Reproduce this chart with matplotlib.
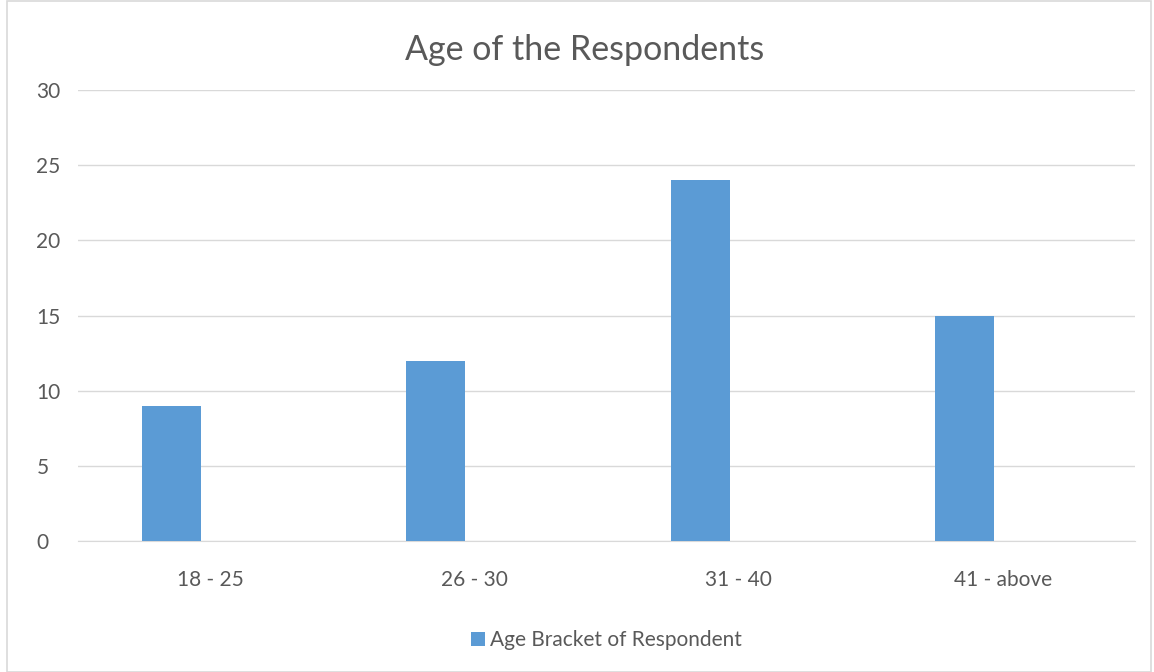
import matplotlib
matplotlib.use('Agg')
import matplotlib.pyplot as plt
from matplotlib.patches import Rectangle
import numpy as np

# data
brackets = ['18 - 25', '26 - 30', '31 - 40', '41 - above']
respondents = [9, 12, 24, 15]
series_name = 'Age Bracket of Respondent'

bar_color = '#5b9bd5'
text_color = '#595959'
grid_color = '#d9d9d9'

plt.rcParams['font.family'] = ['Lato', 'DejaVu Sans']

fig = plt.figure(figsize=(11.54, 6.72), dpi=100)
ax = fig.add_axes([78 / 1154, 1 - 541 / 672, (1135 - 78) / 1154, (541 - 90) / 672])

pos = np.arange(len(brackets))
ax.bar(pos - 0.146, respondents, width=0.223, color=bar_color, label=series_name, zorder=3)

ax.set_xlim(-0.5, len(brackets) - 0.5)
ax.set_ylim(0, 30)
ax.set_yticks(range(0, 31, 5))
ax.set_yticklabels([str(v) for v in range(0, 31, 5)], ha='left')
ax.set_xticks(pos)
ax.set_xticklabels(brackets)
ax.tick_params(axis='both', length=0, labelsize=15, colors=text_color)
ax.tick_params(axis='x', pad=21)
ax.tick_params(axis='y', pad=30)

ax.grid(axis='y', color=grid_color, linewidth=1, zorder=0)
for s in ['top', 'right', 'left']:
    ax.spines[s].set_visible(False)
ax.spines['bottom'].set_color(grid_color)

fig.text(0.507, 1 - 50 / 672, 'Age of the Respondents', ha='center', va='center',
         fontsize=24.5, color=text_color)

ax.legend(loc='center', bbox_to_anchor=(0.5, -0.22), frameon=False,
          fontsize=15, labelcolor=text_color, handlelength=0.65, handleheight=0.65,
          handletextpad=0.25)

fig.patches.append(Rectangle((7 / 1154, 0.0), 1 - 10 / 1154, 0.998, transform=fig.transFigure,
                             fill=False, edgecolor='#d9d9d9', linewidth=1.2))

fig.savefig('out.png', dpi=100)
